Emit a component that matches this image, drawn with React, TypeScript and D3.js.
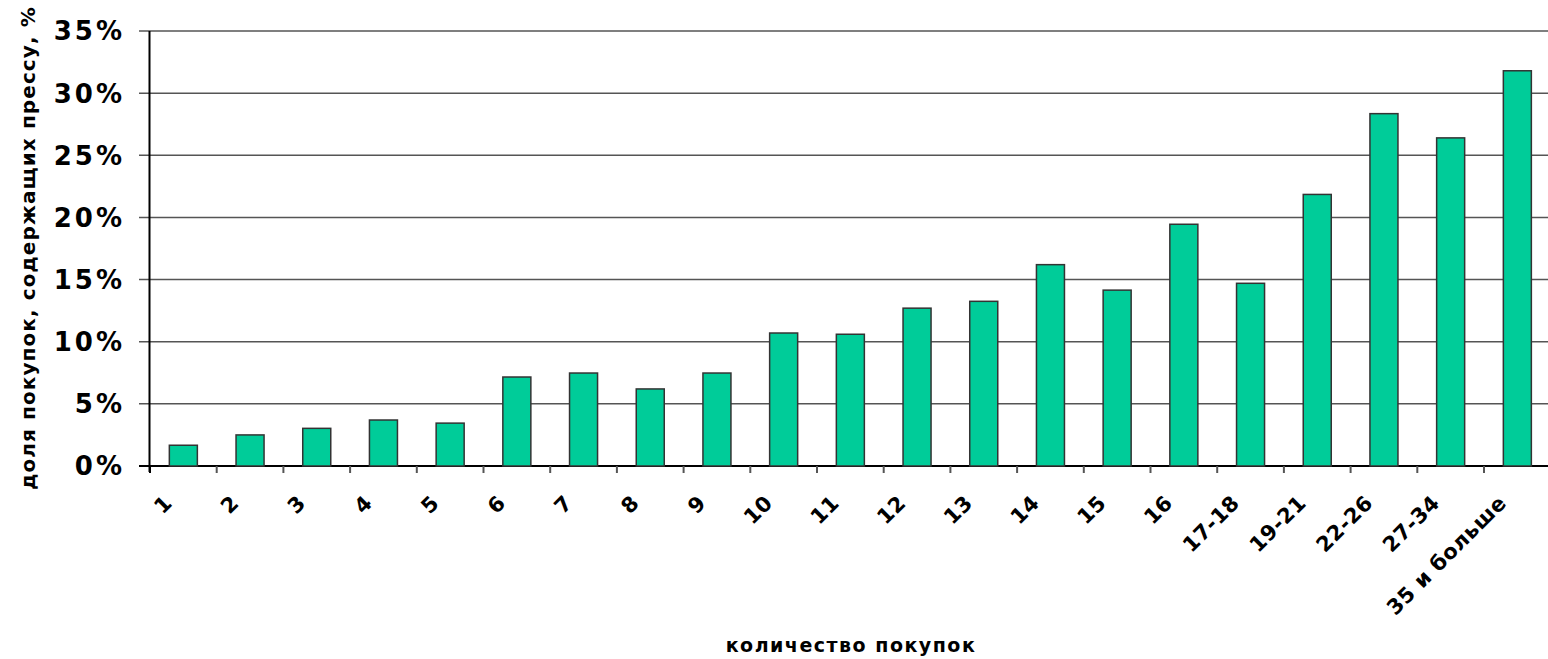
import React from "react";
import * as d3 from "d3";

// Share of purchases that include press, by number of purchases
const categories: string[] = [
  "1", "2", "3", "4", "5", "6", "7", "8", "9", "10", "11", "12", "13", "14", "15", "16",
  "17-18", "19-21", "22-26", "27-34", "35 и больше",
];
const shares: number[] = [
  1.67, 2.5, 3.03, 3.7, 3.45, 7.16, 7.48, 6.2, 7.48, 10.7, 10.6, 12.7, 13.25, 16.2, 14.15, 19.45,
  14.7, 21.85, 28.35, 26.4, 31.8,
];
const yTicks: number[] = [0, 5, 10, 15, 20, 25, 30, 35];

const yTitle = "доля покупок, содержащих прессу, %";
const xTitle = "количество покупок";

const W = 1548;
const H = 659;
const plotLeft = 150;
const plotRight = 1550.7;
const plotTop = 31;
const plotBottom = 466;

const font = "'DejaVu Sans', Verdana, sans-serif";

export default function App() {
  const x = d3
    .scaleBand<string>()
    .domain(categories)
    .range([plotLeft, plotRight])
    .paddingInner(0.58)
    .paddingOuter(0.29);
  const step = x.step();
  const y = d3.scaleLinear().domain([0, 35]).range([plotBottom, plotTop]);

  return (
    <svg
      width={W}
      height={H}
      style={{ position: "absolute", left: 0, top: 0, background: "#fff" }}
    >
      {/* horizontal gridlines and y tick labels */}
      {yTicks.map((t) => (
        <g key={t}>
          <line
            x1={plotLeft - 11}
            x2={W}
            y1={y(t)}
            y2={y(t)}
            stroke={t === 0 ? "#000" : "#555"}
            strokeWidth={t === 0 ? 2 : 1.5}
          />
          <text
            x={plotLeft - 25}
            y={y(t)}
            dy="0.36em"
            textAnchor="end"
            fontFamily={font}
            fontWeight="bold"
            fontSize={26}
            letterSpacing={3}
            fill="#000"
          >
            {t}%
          </text>
        </g>
      ))}

      {/* bars */}
      {categories.map((c, i) => (
        <rect
          key={c}
          x={x(c)}
          y={y(shares[i])}
          width={x.bandwidth()}
          height={y(0) - y(shares[i])}
          fill="#00CC99"
          stroke="#333"
          strokeWidth={1.5}
        />
      ))}

      {/* y axis line */}
      <line x1={plotLeft - 0.5} x2={plotLeft - 0.5} y1={plotTop} y2={plotBottom + 6} stroke="#000" strokeWidth={2} />

      {/* x tick marks at category boundaries */}
      {categories.map((c, i) => (
        <line
          key={"t" + c}
          x1={plotLeft + i * step}
          x2={plotLeft + i * step}
          y1={plotBottom}
          y2={plotBottom + 7}
          stroke={i === 0 ? "#000" : "#555"}
          strokeWidth={2}
        />
      ))}

      {/* rotated category labels */}
      {categories.map((c) => {
        const cx = (x(c) as number) + x.bandwidth() / 2;
        return (
          <text
            key={"l" + c}
            transform={`translate(${cx - 15},${plotBottom + 33}) rotate(-45)`}
            textAnchor="end"
            dy="0.35em"
            fontFamily={font}
            fontWeight="bold"
            fontSize={21}
            letterSpacing={0.5}
            fill="#000"
          >
            {c}
          </text>
        );
      })}

      {/* axis titles */}
      <text
        transform={`translate(35,248) rotate(-90)`}
        textAnchor="middle"
        fontFamily={font}
        fontWeight="bold"
        fontSize={20}
        letterSpacing={1.1}
        fill="#000"
      >
        {yTitle}
      </text>
      <text
        x={851}
        y={652}
        textAnchor="middle"
        fontFamily={font}
        fontWeight="bold"
        fontSize={19}
        letterSpacing={1.5}
        fill="#000"
      >
        {xTitle}
      </text>
    </svg>
  );
}
